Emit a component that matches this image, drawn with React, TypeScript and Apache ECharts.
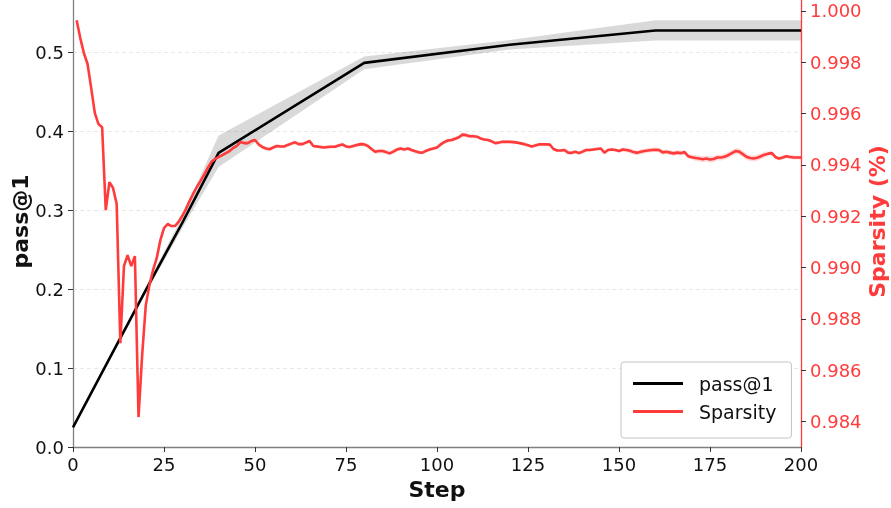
import { useEffect, useRef } from "react";
import * as echarts from "echarts";

const FONT = "DejaVu Sans";
const RED = "#ff3b3b";

// pass@1 evaluations (mean over runs, with min/max envelope)
const passSteps = [0, 10, 20, 30, 40, 80, 120, 160, 200];
const passMean = [0.025, 0.112, 0.199, 0.284, 0.373, 0.487, 0.51, 0.528, 0.528];
const passLow = [0.023, 0.109, 0.195, 0.277, 0.355, 0.479, 0.504, 0.5155, 0.5155];
const passHigh = [0.027, 0.115, 0.203, 0.292, 0.395, 0.495, 0.516, 0.541, 0.541];

// sparsity recorded at every training step 1..200
const sparsity = [
  0.99964, 0.99894, 0.99835, 0.99793, 0.99699, 0.99602, 0.99559, 0.99547, 0.99224, 0.99333,
  0.9931, 0.99248, 0.98706, 0.99006, 0.99049, 0.99006, 0.99045, 0.98418, 0.9866, 0.98854,
  0.98932, 0.98991, 0.99037, 0.99107, 0.99154, 0.9917, 0.99162, 0.99162, 0.99178, 0.99201,
  0.99228, 0.99259, 0.99287, 0.99314, 0.99337, 0.99361, 0.99388, 0.99411, 0.99423, 0.99431,
  0.99438, 0.99446, 0.99454, 0.99466, 0.99474, 0.99489, 0.99485, 0.99485, 0.99493, 0.99497,
  0.9948, 0.9947, 0.99464, 0.99461, 0.99468, 0.99474, 0.99472, 0.99472, 0.99478, 0.99483,
  0.99488, 0.99481, 0.99481, 0.99487, 0.99493, 0.99474, 0.99472, 0.9947, 0.99468, 0.9947,
  0.99471, 0.99471, 0.99476, 0.9948, 0.99472, 0.9947, 0.99474, 0.99478, 0.99481, 0.9948,
  0.99474, 0.99462, 0.99451, 0.99454, 0.99454, 0.9945, 0.99445, 0.99452, 0.9946, 0.99464,
  0.9946, 0.99464, 0.99458, 0.99453, 0.99449, 0.99448, 0.99455, 0.9946, 0.99464, 0.99468,
  0.9948, 0.99489, 0.99495, 0.99497, 0.99502, 0.99508, 0.99518, 0.99516, 0.99512, 0.99512,
  0.9951, 0.99503, 0.99499, 0.99497, 0.99492, 0.99485, 0.99487, 0.9949, 0.9949, 0.9949,
  0.99489, 0.99487, 0.99484, 0.99481, 0.99477, 0.99472, 0.99476, 0.9948, 0.9948, 0.9948,
  0.99479, 0.99462, 0.99456, 0.99456, 0.99458, 0.99448, 0.99447, 0.99451, 0.99446, 0.99452,
  0.99458, 0.99458, 0.9946, 0.99462, 0.99464, 0.99448, 0.99458, 0.9946, 0.99458, 0.99454,
  0.9946, 0.99458, 0.99455, 0.9945, 0.99447, 0.99451, 0.99454, 0.99456, 0.99458, 0.99459,
  0.99458, 0.99449, 0.99451, 0.99448, 0.99445, 0.99448, 0.99446, 0.9945, 0.99434, 0.9943,
  0.99427, 0.99425, 0.99422, 0.99425, 0.99421, 0.99423, 0.99429, 0.99429, 0.99432, 0.99438,
  0.99446, 0.99454, 0.99452, 0.99442, 0.99432, 0.99427, 0.99425, 0.99428, 0.99434, 0.9944,
  0.99444, 0.99446, 0.9943, 0.99425, 0.99429, 0.99434, 0.99431, 0.99429, 0.99429, 0.99429,
];

// half-width of the sparsity spread, one entry per block of 10 steps
const sparsitySpread = [
  0.00002, 0.00002, 0.00004, 0.00004, 0.00006, 0.00007, 0.00007, 0.00007, 0.00008, 0.00007,
  0.00008, 0.00006, 0.00006, 0.00007, 0.00007, 0.00009, 0.00009, 0.00012, 0.00012, 0.00008,
];

// Shaded envelope drawn as one polygon through the axis scales
function bandSeries(
  name: string,
  xs: number[],
  lo: number[],
  hi: number[],
  yAxisIndex: number,
  fill: string,
  z: number
) {
  return {
    name,
    type: "custom",
    yAxisIndex,
    silent: true,
    clip: true,
    z,
    data: xs.map((x, i) => [x, lo[i], hi[i]]),
    encode: { x: 0, y: [1, 2] },
    renderItem: (params: any, api: any) => {
      if (params.dataIndex !== 0) return null;
      const pts: number[][] = [];
      for (let i = 0; i < xs.length; i++) pts.push(api.coord([xs[i], hi[i]]));
      for (let i = xs.length - 1; i >= 0; i--) pts.push(api.coord([xs[i], lo[i]]));
      return { type: "polygon", shape: { points: pts }, style: { fill } };
    },
  };
}

export default function App() {
  const ref = useRef<HTMLDivElement>(null);

  useEffect(() => {
    if (!ref.current) return;
    const chart = echarts.init(ref.current, undefined, { renderer: "svg" });

    const spSteps = sparsity.map((_, i) => i + 1);
    const spreadAt = (i: number) =>
      sparsitySpread[Math.min(sparsitySpread.length - 1, Math.floor(i / 10))];
    const spLow = sparsity.map((v, i) => v - spreadAt(i));
    const spHigh = sparsity.map((v, i) => v + spreadAt(i));

    chart.setOption({
      animation: false,
      textStyle: { fontFamily: FONT },
      grid: {
        left: 73,
        right: 90,
        top: -4,
        bottom: 61,
        containLabel: false,
        outerBoundsMode: "none",
      },
      legend: {
        data: ["pass@1", "Sparsity"],
        orient: "vertical",
        left: 621,
        top: 362,
        backgroundColor: "rgba(255,255,255,0.85)",
        borderColor: "#c4c4c4",
        borderWidth: 1,
        borderRadius: 3,
        padding: [12, 15, 17, 12],
        itemWidth: 50,
        itemHeight: 3,
        itemGap: 9,
        icon: "rect",
        textStyle: { fontFamily: FONT, fontSize: 19, color: "#111", padding: [0, 0, 0, 11] },
      },
      xAxis: {
        type: "value",
        min: 0,
        max: 200,
        interval: 25,
        name: "Step",
        nameLocation: "middle",
        nameGap: 31,
        nameMoveOverlap: false,
        nameTextStyle: { fontFamily: FONT, fontSize: 22, fontWeight: "bold", color: "#111" },
        axisLine: { lineStyle: { color: "#808080", width: 1.3 } },
        axisTick: { length: 5, lineStyle: { color: "#333" } },
        axisLabel: { fontFamily: FONT, fontSize: 18, color: "#111", margin: 8 },
        splitLine: { show: false },
      },
      yAxis: [
        {
          type: "value",
          position: "left",
          min: 0,
          max: 0.5718,
          interval: 0.1,
          name: "pass@1",
          nameLocation: "middle",
          nameRotate: 90,
          nameGap: 42,
          nameMoveOverlap: false,
          nameTextStyle: { fontFamily: FONT, fontSize: 22, fontWeight: "bold", color: "#111" },
          axisLine: { show: true, lineStyle: { color: "#808080", width: 1.3 } },
          axisTick: { show: true, length: 5, lineStyle: { color: "#333" } },
          axisLabel: {
            fontFamily: FONT,
            fontSize: 18,
            color: "#111",
            margin: 9,
            showMaxLabel: false,
            formatter: (v: number) => v.toFixed(1),
          },
          splitLine: { show: true, lineStyle: { color: "#e2e2e2", width: 0.8, type: [4, 3] } },
        },
        {
          type: "value",
          position: "right",
          min: 0.983014,
          max: 1.00058,
          splitNumber: 8,
          name: "Sparsity (%)",
          nameLocation: "middle",
          nameRotate: 90,
          nameGap: 65,
          nameMoveOverlap: false,
          nameTextStyle: { fontFamily: FONT, fontSize: 22, fontWeight: "bold", color: RED },
          axisLine: { show: true, lineStyle: { color: RED, width: 1.3 } },
          axisTick: { show: true, length: 5, lineStyle: { color: "#333" } },
          axisLabel: {
            fontFamily: FONT,
            fontSize: 18,
            color: RED,
            margin: 9,
            showMinLabel: false,
            showMaxLabel: false,
            formatter: (v: number) => v.toFixed(3),
          },
          splitLine: { show: false },
        },
      ],
      series: [
        bandSeries("passBand", passSteps, passLow, passHigh, 0, "rgba(0,0,0,0.15)", 1),
        {
          name: "pass@1",
          type: "line",
          data: passSteps.map((s, i) => [s, passMean[i]]),
          symbol: "none",
          itemStyle: { color: "#000" },
          lineStyle: { color: "#000", width: 2.6 },
          z: 3,
        },
        bandSeries("sparsityBand", spSteps, spLow, spHigh, 1, "rgba(255,0,0,0.14)", 4),
        {
          name: "Sparsity",
          type: "line",
          yAxisIndex: 1,
          data: sparsity.map((v, i) => [spSteps[i], v]),
          symbol: "none",
          itemStyle: { color: RED },
          lineStyle: { color: RED, width: 2.6 },
          z: 5,
        },
      ],
    });

    return () => chart.dispose();
  }, []);

  return (
    <div
      ref={ref}
      style={{ position: "fixed", left: 0, top: 0, width: 891, height: 508 }}
    />
  );
}
